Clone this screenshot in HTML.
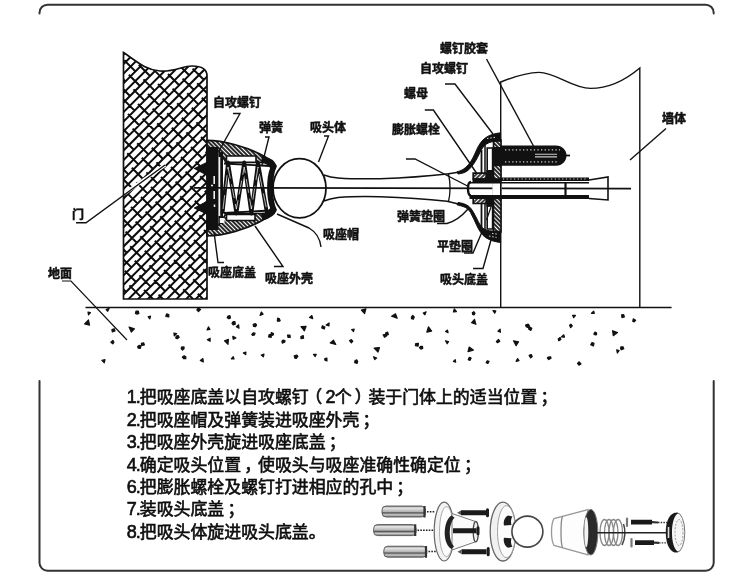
<!DOCTYPE html>
<html lang="zh-CN">
<head>
<meta charset="utf-8">
<title>门吸安装示意图</title>
<style>
html,body{margin:0;padding:0;background:#fff;}
body{width:750px;height:576px;overflow:hidden;position:relative;font-family:"Liberation Sans","Noto Sans CJK SC",sans-serif;}
#dia{position:absolute;left:0;top:0;width:750px;height:576px;display:block;filter:blur(0.4px);}
.lb{font-family:"Liberation Sans","Noto Sans CJK SC",sans-serif;font-weight:bold;font-size:12px;fill:#111;stroke:#111;stroke-width:0.5px;stroke-linejoin:round;}
.steps{filter:blur(0.4px);position:absolute;left:126.8px;top:387.2px;margin:0;padding:0;list-style:none;font-size:16.9px;line-height:22.45px;color:#111;white-space:nowrap;}
.steps b{font-weight:normal;font-size:18px;letter-spacing:-1px;line-height:1px;}
.steps u{text-decoration:none;position:relative;left:-3.5px;}
.steps i{font-style:normal;position:relative;left:3.2px;}
.steps li{margin:0;padding:0;height:22.45px;-webkit-text-stroke:0.6px #0a0a0a;}
</style>
</head>
<body>
<svg id="dia" width="750" height="576" viewBox="0 0 750 576">
<defs>
<pattern id="hatch" width="3" height="3" patternUnits="userSpaceOnUse" patternTransform="rotate(45)">
<rect width="3" height="3" fill="#fff"/>
<path d="M0 1H3" stroke="#111" stroke-width="1.800"/>
</pattern>
<pattern id="hatch2" width="3" height="3" patternUnits="userSpaceOnUse" patternTransform="rotate(-45)">
<rect width="3" height="3" fill="#fff"/>
<path d="M0 1H3" stroke="#111" stroke-width="1.600"/>
</pattern>
</defs>
<!-- FRAME -->
<g id="frame" fill="none" stroke="#333" stroke-width="2" stroke-linecap="round">
<path d="M39.5 13.5V12.7a8 8 0 0 1 8-8H705.7a8 8 0 0 1 8 8V13.5"/>
<path d="M39.5 381V562.7a8 8 0 0 0 8 8H705.7a8 8 0 0 0 8-8V381"/>
</g>
<!-- DOOR -->
<g id="door">
<clipPath id="doorclip"><path d="M123.5 52.5C135 60 145 70 160 71C175 72 182 66 192 66C200 66 207 68 207 76V299H123.5Z"/></clipPath>
<path d="M123.5 52.5C135 60 145 70 160 71C175 72 182 66 192 66C200 66 207 68 207 76V299H123.5Z" fill="#fff"/>
<g clip-path="url(#doorclip)"><path d="M121.0 37.8L209.0 -50.2M121.0 47.4L209.0 -40.6M121.0 57.0L209.0 -31.0M121.0 66.6L209.0 -21.4M121.0 76.2L209.0 -11.8M121.0 85.8L209.0 -2.2M121.0 95.4L209.0 7.4M121.0 105.0L209.0 17.0M121.0 114.6L209.0 26.6M121.0 124.2L209.0 36.2M121.0 133.8L209.0 45.8M121.0 143.4L209.0 55.4M121.0 153.0L209.0 65.0M121.0 162.6L209.0 74.6M121.0 172.2L209.0 84.2M121.0 181.8L209.0 93.8M121.0 191.4L209.0 103.4M121.0 201.0L209.0 113.0M121.0 210.6L209.0 122.6M121.0 220.2L209.0 132.2M121.0 229.8L209.0 141.8M121.0 239.4L209.0 151.4M121.0 249.0L209.0 161.0M121.0 258.6L209.0 170.6M121.0 268.2L209.0 180.2M121.0 277.8L209.0 189.8M121.0 287.4L209.0 199.4M121.0 297.0L209.0 209.0M121.0 306.6L209.0 218.6M121.0 316.2L209.0 228.2M121.0 325.8L209.0 237.8M121.0 335.4L209.0 247.4M121.0 345.0L209.0 257.0M121.0 354.6L209.0 266.6M121.0 364.2L209.0 276.2M121.0 373.8L209.0 285.8M121.0 383.4L209.0 295.4M121.0 393.0L209.0 305.0M121.0 402.6L209.0 314.6M198.0 44.0L209.2 55.2M183.4 39.4L194.6 50.6M202.6 58.6L213.8 69.8M188.0 54.0L199.2 65.2M207.2 73.2L218.4 84.4M173.4 49.4L184.6 60.6M192.6 68.6L203.8 79.8M158.8 44.8L170.0 56.0M178.0 64.0L189.2 75.2M197.2 83.2L208.4 94.4M144.2 40.2L155.4 51.4M163.4 59.4L174.6 70.6M182.6 78.6L193.8 89.8M201.8 97.8L213.0 109.0M148.8 54.8L160.0 66.0M168.0 74.0L179.2 85.2M187.2 93.2L198.4 104.4M206.4 112.4L217.6 123.6M134.2 50.2L145.4 61.4M153.4 69.4L164.6 80.6M172.6 88.6L183.8 99.8M191.8 107.8L203.0 119.0M119.6 45.6L130.8 56.8M138.8 64.8L150.0 76.0M158.0 84.0L169.2 95.2M177.2 103.2L188.4 114.4M196.4 122.4L207.6 133.6M124.2 60.2L135.4 71.4M143.4 79.4L154.6 90.6M162.6 98.6L173.8 109.8M181.8 117.8L193.0 129.0M201.0 137.0L212.2 148.2M128.8 74.8L140.0 86.0M148.0 94.0L159.2 105.2M167.2 113.2L178.4 124.4M186.4 132.4L197.6 143.6M205.6 151.6L216.8 162.8M114.2 70.2L125.4 81.4M133.4 89.4L144.6 100.6M152.6 108.6L163.8 119.8M171.8 127.8L183.0 139.0M191.0 147.0L202.2 158.2M118.8 84.8L130.0 96.0M138.0 104.0L149.2 115.2M157.2 123.2L168.4 134.4M176.4 142.4L187.6 153.6M195.6 161.6L206.8 172.8M123.4 99.4L134.6 110.6M142.6 118.6L153.8 129.8M161.8 137.8L173.0 149.0M181.0 157.0L192.2 168.2M200.2 176.2L211.4 187.4M128.0 114.0L139.2 125.2M147.2 133.2L158.4 144.4M166.4 152.4L177.6 163.6M185.6 171.6L196.8 182.8M204.8 190.8L216.0 202.0M113.4 109.4L124.6 120.6M132.6 128.6L143.8 139.8M151.8 147.8L163.0 159.0M171.0 167.0L182.2 178.2M190.2 186.2L201.4 197.4M118.0 124.0L129.2 135.2M137.2 143.2L148.4 154.4M156.4 162.4L167.6 173.6M175.6 181.6L186.8 192.8M194.8 200.8L206.0 212.0M122.6 138.6L133.8 149.8M141.8 157.8L153.0 169.0M161.0 177.0L172.2 188.2M180.2 196.2L191.4 207.4M199.4 215.4L210.6 226.6M127.2 153.2L138.4 164.4M146.4 172.4L157.6 183.6M165.6 191.6L176.8 202.8M184.8 210.8L196.0 222.0M204.0 230.0L215.2 241.2M112.6 148.6L123.8 159.8M131.8 167.8L143.0 179.0M151.0 187.0L162.2 198.2M170.2 206.2L181.4 217.4M189.4 225.4L200.6 236.6M208.6 244.6L219.8 255.8M117.2 163.2L128.4 174.4M136.4 182.4L147.6 193.6M155.6 201.6L166.8 212.8M174.8 220.8L186.0 232.0M194.0 240.0L205.2 251.2M121.8 177.8L133.0 189.0M141.0 197.0L152.2 208.2M160.2 216.2L171.4 227.4M179.4 235.4L190.6 246.6M198.6 254.6L209.8 265.8M126.4 192.4L137.6 203.6M145.6 211.6L156.8 222.8M164.8 230.8L176.0 242.0M184.0 250.0L195.2 261.2M203.2 269.2L214.4 280.4M111.8 187.8L123.0 199.0M131.0 207.0L142.2 218.2M150.2 226.2L161.4 237.4M169.4 245.4L180.6 256.6M188.6 264.6L199.8 275.8M207.8 283.8L219.0 295.0M116.4 202.4L127.6 213.6M135.6 221.6L146.8 232.8M154.8 240.8L166.0 252.0M174.0 260.0L185.2 271.2M193.2 279.2L204.4 290.4M121.0 217.0L132.2 228.2M140.2 236.2L151.4 247.4M159.4 255.4L170.6 266.6M178.6 274.6L189.8 285.8M197.8 293.8L209.0 305.0M125.6 231.6L136.8 242.8M144.8 250.8L156.0 262.0M164.0 270.0L175.2 281.2M183.2 289.2L194.4 300.4M111.0 227.0L122.2 238.2M130.2 246.2L141.4 257.4M149.4 265.4L160.6 276.6M168.6 284.6L179.8 295.8M115.6 241.6L126.8 252.8M134.8 260.8L146.0 272.0M154.0 280.0L165.2 291.2M173.2 299.2L184.4 310.4M120.2 256.2L131.4 267.4M139.4 275.4L150.6 286.6M158.6 294.6L169.8 305.8M124.8 270.8L136.0 282.0M144.0 290.0L155.2 301.2M110.2 266.2L121.4 277.4M129.4 285.4L140.6 296.6M114.8 280.8L126.0 292.0M134.0 300.0L145.2 311.2M119.4 295.4L130.6 306.6" stroke="#0c0c0c" stroke-width="2.00" fill="none"/></g>
<path d="M123.5 52.5C135 60 145 70 160 71C175 72 182 66 192 66C200 66 207 68 207 76V299H123.5Z" fill="none" stroke="#111" stroke-width="1.7"/>
</g>
<!-- GROUND -->
<g id="ground">
<path d="M85.500 307.500H671.600" stroke="#111" stroke-width="1.700"/>
<path id="speck" fill="#111" stroke="#111" stroke-width="1.2" stroke-linejoin="round" d="M88.0 312.2L90.5 312.5L88.5 314.9ZM84.6 324.0L88.5 320.0L89.5 325.1ZM107.7 311.3L106.2 309.5L109.1 308.4ZM138.9 313.4L137.2 314.1L135.4 313.4L136.0 311.2L138.3 311.1ZM150.6 316.2L149.8 318.9L148.2 316.8ZM165.8 316.3L166.6 313.9L168.8 314.6L168.8 316.9ZM200.6 309.4L198.5 311.7L196.8 309.8L198.4 308.0ZM228.9 318.8L227.2 317.8L227.9 316.2L229.9 315.7L230.5 318.0ZM263.1 314.1L260.1 315.4L261.3 312.0ZM279.1 321.3L277.3 320.5L277.7 318.2L279.2 318.6L280.2 320.8ZM112.3 331.9L111.9 329.6L114.2 328.7L115.0 330.9ZM129.1 327.1L134.4 328.9L131.3 332.0ZM110.9 342.2L112.9 340.4L113.9 342.3L112.8 343.8ZM138.3 348.2L137.6 346.8L139.3 345.3L141.0 345.8L140.4 348.3ZM141.4 343.4L143.6 342.8L144.4 345.0L141.7 345.4ZM176.7 333.5L174.3 335.8L173.9 333.1ZM175.8 338.2L176.2 336.1L178.2 335.5L179.2 337.3L177.3 338.8ZM181.3 348.9L181.4 347.0L184.0 346.9L184.1 348.5L182.5 350.1ZM183.6 358.7L182.4 357.1L184.2 355.8L185.8 356.8L185.8 358.7ZM200.3 360.4L202.9 358.6L203.3 361.9ZM208.4 326.9L209.9 329.4L207.1 329.8ZM210.1 338.2L210.1 341.3L207.3 339.7ZM228.0 344.3L224.5 340.8L228.4 339.4ZM232.8 336.4L235.8 337.9L233.2 339.3ZM232.0 323.4L233.2 321.6L234.9 321.5L235.3 324.2L233.2 324.8ZM236.3 326.8L238.6 324.8L239.0 328.1ZM231.3 358.8L233.2 356.6L234.1 358.9ZM245.9 352.1L245.7 354.6L243.4 352.9ZM252.6 335.5L251.8 334.5L253.2 332.9L255.0 333.2L254.5 335.0ZM255.4 323.7L256.6 324.9L255.5 326.7L253.5 326.5L253.2 324.3ZM263.4 356.9L261.3 355.0L264.0 354.2ZM268.6 337.0L269.1 334.7L271.4 334.9L271.2 337.3ZM271.3 332.6L273.5 333.5L273.1 335.2L270.8 335.5ZM101.9 360.4L105.0 359.7L104.3 362.8ZM277.9 318.3L280.1 320.5L277.5 321.3ZM281.9 341.1L283.2 340.0L285.1 340.9L284.6 342.2L282.3 343.1ZM287.5 335.2L290.0 335.1L290.2 337.4L288.1 337.5ZM303.2 335.5L303.6 338.2L301.0 338.7L300.9 336.5ZM306.1 326.4L304.4 330.9L301.0 326.7ZM312.7 318.6L309.5 317.4L311.9 315.6ZM322.4 325.7L324.9 327.0L324.3 329.0L321.7 327.9ZM328.9 325.9L326.1 324.9L329.1 322.9ZM296.1 358.5L294.8 358.1L294.2 355.9L296.9 355.0L297.9 356.4ZM316.3 354.3L315.2 356.5L313.5 354.4ZM327.0 360.9L324.8 360.1L324.8 358.5L326.9 358.2ZM333.5 340.2L335.8 344.5L330.2 342.9ZM352.8 341.2L351.4 342.9L349.5 340.7L351.3 339.6ZM354.2 329.0L353.5 331.6L351.7 329.5ZM354.7 362.8L354.9 360.8L356.7 359.9L357.7 361.5L357.0 363.5ZM361.4 310.1L365.9 308.8L364.6 313.6ZM373.6 356.7L376.6 358.1L374.7 359.6ZM374.1 348.1L379.5 347.6L378.0 352.1ZM384.5 337.3L383.2 334.9L385.6 334.3L386.3 336.2ZM388.4 334.5L386.4 335.4L385.5 333.1L387.6 332.1ZM395.5 313.8L397.2 318.3L391.6 316.2ZM412.8 315.5L414.3 317.1L413.3 319.2L411.4 318.6L411.5 316.8ZM423.3 313.0L426.1 311.8L424.9 314.8ZM418.5 343.4L418.0 346.2L415.4 345.6L415.7 343.5ZM419.4 347.6L420.8 346.3L422.5 346.4L422.7 348.4L420.9 349.1ZM431.6 331.1L426.8 332.2L428.5 326.8ZM445.6 331.4L447.5 330.1L448.1 332.7ZM448.5 341.6L447.2 343.8L445.5 340.8ZM454.3 308.8L456.5 311.6L453.4 312.0ZM453.4 361.5L455.2 359.6L455.7 362.2ZM469.2 347.0L473.3 350.1L468.0 351.7ZM468.2 359.8L469.3 357.3L471.1 358.1L469.9 360.4ZM474.5 319.3L475.9 324.3L471.5 322.8ZM472.6 314.5L472.3 312.7L473.8 311.7L475.0 313.4L473.9 315.0ZM494.7 313.2L493.0 310.6L495.8 310.9ZM500.4 332.3L498.0 331.1L500.1 329.1ZM498.5 339.4L499.7 341.4L497.3 342.8L496.4 341.4ZM489.0 361.4L487.9 363.5L486.1 362.8L487.2 360.8ZM518.6 341.8L516.1 345.7L513.5 340.8ZM516.1 361.4L517.6 358.6L519.0 360.6ZM526.1 326.7L525.6 325.0L528.1 324.1L529.3 325.7L528.3 327.6ZM528.6 329.1L529.8 327.0L531.8 328.2L530.8 330.5ZM532.2 356.6L530.7 357.9L529.1 355.4L531.3 354.5ZM551.0 358.2L548.8 359.6L547.4 358.0L548.3 357.0L550.7 356.8ZM558.2 338.9L560.1 337.5L560.9 339.6L558.8 340.8ZM564.5 337.2L561.4 337.0L563.8 334.8ZM570.9 324.1L572.3 325.8L570.7 327.7L569.6 325.2ZM575.5 315.4L573.7 317.7L572.6 315.3ZM579.2 361.8L581.0 363.9L578.9 365.2L577.5 363.4ZM594.3 313.4L591.5 313.3L593.7 311.2ZM595.0 332.0L596.5 332.7L596.6 334.6L595.3 335.0L593.8 334.0ZM593.4 346.0L590.7 344.8L592.0 342.5L594.0 343.3ZM617.5 332.6L613.3 335.7L612.6 330.7ZM617.4 353.0L616.7 349.9L619.1 350.6ZM620.6 348.7L620.9 346.9L623.0 346.8L623.8 348.7L621.4 349.8ZM624.4 317.0L622.0 317.6L621.6 314.9L623.7 314.7ZM635.7 320.2L634.2 321.9L632.7 321.3L633.3 318.9Z"/>
</g>
<!-- WALL -->
<g id="wall" fill="none" stroke="#111" stroke-width="1.4">
<path d="M500.700 307V82C512 77.500 526 72.400 539 72.400C556 72.400 572 88.400 590.500 88.400C610 88.400 628 78 639.800 68V307"/>
</g>
<!-- LEFTDEV -->
<g id="leftdev">
<!-- outer shell hatched -->
<path d="M207 140.300C222 140.300 248 146.500 265.500 157L263.500 162.500H226L219 151H207Z" fill="url(#hatch)" stroke="#111" stroke-width="1.700"/>
<path d="M207 236C222 236 248 229.500 265.500 218.500L263.500 213.500H226L219 225H207Z" fill="url(#hatch)" stroke="#111" stroke-width="1.700"/>
<!-- base cover black -->
<path d="M206.500 147H218.400V230H206.500Z" fill="#111"/>
<path d="M207 162.500L194.500 168.500L207 175ZM207 201.500L194.500 208L207 214Z" fill="#111" stroke="#111" stroke-width="1.200" stroke-linejoin="round"/>
<path d="M197 168.600H207M197 208H207" stroke="#111" stroke-width="3.400"/>
<path d="M214.200 176V184M214.200 191V199M211 185.500H213M214.500 204.500V207" stroke="#eee" stroke-width="1.600"/>
<!-- inner sleeve -->
<path d="M218.400 152H223V224H218.400Z" fill="#111"/>
<path d="M219.400 157V216" stroke="#f4f4f4" stroke-width="1.700"/>
<path d="M219.800 218H224.500V223H219.800Z" fill="#f4f4f4"/>
<path d="M226.500 156H256V162.300H226.500ZM226.500 214.500H255V220.500H226.500Z" fill="#fff" stroke="#111" stroke-width="1.600"/>
<path d="M224 163.500L270 166M224 213L270 210.500" stroke="#111" stroke-width="1.800" fill="none"/>
<!-- spring -->
<path d="M222.500 213.500L228 162.500L236.400 213.500L244.200 162.500L251.400 213.500L258 162.500L267 213.500" fill="none" stroke="#111" stroke-width="3.800" stroke-linejoin="round"/>
<path d="M223 209L228 167L236.400 209L244.200 167L251.400 209L258 167L266.500 209" fill="none" stroke="#fff" stroke-width="0.700" stroke-linejoin="round" stroke-dasharray="14 6"/>
<!-- cap -->
<path d="M263 156.500C269 158 274 161 276 166C271 176 271 200 276 210C274 215 269 218 263 219.500L262 214C268 213 270 211 271 208C267 198 267 178 271 168C270 165 268 163 262 162Z" fill="#111" stroke="#111" stroke-width="1.800" stroke-linejoin="round"/>
</g>
<!-- BALL -->
<g id="ball" fill="none" stroke="#111" stroke-width="1.500">
<ellipse cx="299.500" cy="188.300" rx="26.500" ry="29.600" fill="#fff" stroke-width="1.800"/>
<path d="M324 175C328 176.500 332 177.500 338 178C352 179 366 179 380 178.700C400 178 425 176.500 447 174C451 173.500 454 173 458 172.300"/>
<path d="M324 201C328 199.500 332 198.500 338 197.500C352 196.300 366 196.300 380 196.700C400 197.300 425 198.800 447 201.300C451 202 454 203 458 204"/>
<path d="M448.500 174C450.500 183 450.500 193 448.500 201.500" stroke-width="1.300"/>
<path d="M194 187.800L631 188.600" stroke-width="1.700"/>
</g>
<!-- RIGHTDEV -->
<g id="rightdev">
<!-- inner flanges -->
<path d="M481.500 150V176M481.500 200V231" stroke="#111" stroke-width="1.800"/>
<path d="M485 143V176M485 200V231" stroke="#111" stroke-width="1.500"/>
<path d="M487.200 148H492.600V172H487.200ZM487.200 206H492.600V229H487.200Z" fill="#fff" stroke="#111" stroke-width="1.600"/>
<path d="M491 207L486.500 220" stroke="#111" stroke-width="1.200"/>
<!-- base plate -->
<path d="M493.500 140H501V232H493.500Z" fill="url(#hatch)" stroke="#111" stroke-width="1.600"/>
<!-- dome cover shell -->
<path d="M500.600 132.800C496 133.300 490 134.500 485.500 137.800C482 140.300 479 144.500 477 149C475 153.500 474 155.500 472.500 158.500C470.500 162.500 467 167 463 169.500C461 170.700 459 171.300 457 171.800L458 174C462 173.500 466 172.500 469 169.500C472.500 166 475.500 161.500 477.500 157.500C479 154.500 480.500 151 482.500 148C484.500 145 488 142.500 492 141.800C495 141.300 498 141.200 500.600 141.200Z" fill="#111" stroke="#111" stroke-width="1" stroke-linejoin="round"/>
<path d="M500.600 242.500C496 242 490 240.500 485.500 237.500C482 235 479.500 231 477.500 227C475 222 473 217 470.500 212.500C468.500 209 466 207.500 463 206.500C461 205.800 459 205.300 457 204.800L458 202.500C462 203 466 204 469 206.500C472 209 474.500 214 477 219C478.500 222 480.500 226 482.500 228C485 230.200 489 230.800 492 231C495 231.200 498 231.200 500.600 231.200Z" fill="#111" stroke="#111" stroke-width="1" stroke-linejoin="round"/>
<path d="M487 138.500L496 137.200M489 236L496.500 237.500M492 233.500L498 234.200" stroke="#ddd" stroke-width="1" stroke-dasharray="1.500 1.800"/>
<!-- nut -->
<path d="M473.200 173.200H486.200V179H473.200ZM473.200 198H486.200V203.500H473.200Z" fill="url(#hatch2)" stroke="#111" stroke-width="1.700"/>
<path d="M486.200 170H493.500V179H486.200ZM486.200 198H493.500V206.500H486.200Z" fill="#111"/>
<!-- screw through plate -->
<path d="M492.500 147H502V166H492.500Z" fill="#111"/>
<!-- bolt -->
<path d="M492.400 183H501.500V195H492.400Z" fill="#fff"/>
<path d="M500.700 182V196" stroke="#111" stroke-width="1.400"/>
<path d="M469 182.800H589" stroke="#111" stroke-width="1.500" fill="none"/>
<path d="M472.500 178.200H501V182.800H472.500Z" fill="#111"/>
<path d="M500 179.200H589" stroke="#111" stroke-width="3.600"/>
<path d="M503 179H588" stroke="#e8e8e8" stroke-width="1.100" stroke-dasharray="1.100 2.600"/>
<path d="M471 182C468.500 182 468 184 468 188.500C468 193 468.500 195.500 471 195.500" fill="none" stroke="#111" stroke-width="2.400"/>
<path d="M469.500 197H589" stroke="#111" stroke-width="4.200"/>
<path d="M565.500 182V195" stroke="#111" stroke-width="2.200"/>
<path d="M589 180L608 177V200L589 198.500" fill="none" stroke="#111" stroke-width="1.600"/>
<!-- rubber plug -->
<path d="M501 145.500H556C562 145.500 566.500 150 566.500 155.500C566.500 161 562 165.700 556 165.700H501Z" fill="#111"/>
<path d="M565 155.500H570" stroke="#111" stroke-width="1.800"/>
<path d="M505 149.800H560M505 161.800H558" stroke="#ccc" stroke-width="1.300" stroke-dasharray="1.300 2.300"/>
<path d="M535 154.200H557M535 156.900H557" stroke="#ccc" stroke-width="1.100"/>
</g>
<!-- LABELS -->
<g id="leaders" fill="none" stroke="#111" stroke-width="1.400">
<path d="M233 113.500H240L219 151"/>
<path d="M265 137H269L262 165"/>
<path d="M324 136H328.500L318.500 162"/>
<path d="M125 193.300L165 165" stroke="#fff" stroke-width="3.500"/>
<path d="M76 222.800H86L165 165"/>
<path d="M277 214L309 228C316 232 320 238 321 247"/>
<path d="M214 232L218 262.500H224"/>
<path d="M255 226L283 266.500H274"/>
<path d="M62 281H71L127 340" stroke-width="1.200"/>
<path d="M486.500 59L533.500 146"/>
<path d="M445 84H455L493 134"/>
<path d="M424.800 110H433.400L476.500 173"/>
<path d="M406 159H415L467.500 186"/>
<path d="M437 223.500H447C456 221 462 216 468 209"/>
<path d="M464 253H473L482 232"/>
<path d="M473 268.500H483L491 240"/>
<path d="M666 128.500L630 160"/>
</g>
<g id="labels" class="lb">
<text x="213" y="107">自攻螺钉</text>
<text x="259" y="132">弹簧</text>
<text x="310" y="131.500">吸头体</text>
<text x="72" y="219">门</text>
<text x="323" y="239">吸座帽</text>
<text x="208" y="277">吸座底盖</text>
<text x="265" y="283">吸座外壳</text>
<text x="48" y="278">地面</text>
<text x="440" y="53">螺钉胶套</text>
<text x="420" y="73">自攻螺钉</text>
<text x="404" y="98">螺母</text>
<text x="392" y="133.500">膨胀螺栓</text>
<text x="397" y="221">弹簧垫圈</text>
<text x="437" y="250.500">平垫圈</text>
<text x="440" y="284">吸头底盖</text>
<text x="662" y="123">墙体</text>
</g>
<!-- PARTS -->
<g id="parts">
<defs>
<linearGradient id="plug" x1="0" y1="0" x2="0" y2="1">
<stop offset="0" stop-color="#777"/><stop offset="0.18" stop-color="#e6e6e6"/><stop offset="0.5" stop-color="#b5b5b5"/><stop offset="0.62" stop-color="#555"/><stop offset="0.8" stop-color="#cfcfcf"/><stop offset="1" stop-color="#666"/>
</linearGradient>
</defs>
<!-- expansion plugs -->
<g stroke="#555" stroke-width="0.900" fill="url(#plug)">
<rect x="382" y="506" width="43.500" height="11" rx="4"/>
<rect x="373.600" y="524.600" width="42.500" height="11" rx="4"/>
<rect x="383.800" y="546.200" width="43" height="11" rx="4"/>
</g>
<path d="M424.500 506V517.500M415.200 524.300V536M426 546V557.800" stroke="#333" stroke-width="2.200"/>
<path d="M427 511.800H435M417.500 530.200H436M428.500 551.400H436" stroke="#222" stroke-width="1.500" stroke-dasharray="1.600 1.200"/>
<!-- plate 1 -->
<ellipse cx="444.200" cy="531.600" rx="10" ry="29.400" fill="#f3f3f3" stroke="#666" stroke-width="1.200"/>
<ellipse cx="446.500" cy="531.600" rx="7" ry="25" fill="#fdfdfd" stroke="#999" stroke-width="0.800"/>
<!-- cone -->
<path d="M452 513.500L475.500 521.500V541.800L452 550Z" fill="#fafafa" stroke="#777" stroke-width="1"/>
<path d="M451.500 515.500C443.500 520 441.500 543 451.500 549L454 546.500C448 540 448.500 524 454.500 517.500Z" fill="#222"/>
<ellipse cx="475.800" cy="531.600" rx="2.600" ry="10.200" fill="#eee" stroke="#444" stroke-width="1.200"/>
<!-- screws -->
<g stroke="#1a1a1a" stroke-width="5" stroke-linecap="butt">
<path d="M461 512.700H486M453 530.700H476.500M461.500 551.700H486.500"/>
</g>
<path d="M487.500 509.800V515.800M478 527.800V533.800M488.200 548.600V554.800" stroke="#1a1a1a" stroke-width="3" stroke-linecap="round"/>
<path d="M457 512.700L461 510.500V515ZM457.500 551.700L461.500 549.500V554Z" fill="#555"/>
<!-- ring 2 -->
<ellipse cx="503" cy="531.600" rx="12.800" ry="29.400" fill="#f1f1f1" stroke="#666" stroke-width="1.300"/>
<ellipse cx="506.500" cy="531.600" rx="9" ry="26" fill="#fcfcfc" stroke="#999" stroke-width="0.900"/>
<path d="M508 515.500C504.500 517 503 522 504 525.500L511.500 525C510.500 522 511 518.500 512.500 516.500ZM508 547.800C504.500 546.300 503 541.300 504 537.800L511.500 538.300C510.500 541.300 511 544.800 512.500 546.800Z" fill="#1c1c1c"/>
<!-- ball -->
<circle cx="527.400" cy="531.600" r="15.500" fill="#fff" stroke="#444" stroke-width="1.600"/>
<!-- shell -->
<path d="M554 518.500C552 522 551.500 527 551.500 532C551.500 537 552 542 554 545.500L588 555V509.500Z" fill="#fdfdfd" stroke="#999" stroke-width="1.300"/>
<path d="M562.500 516.500C560.500 521 560.500 543 562.500 547.500" fill="none" stroke="#888" stroke-width="1.300"/>
<ellipse cx="590.800" cy="532.200" rx="7" ry="22.800" fill="#2a2a2a" stroke="#777" stroke-width="1"/>
<ellipse cx="586.300" cy="532.200" rx="2" ry="15" fill="#f4f4f4"/>
<!-- spring -->
<g fill="none" stroke="#888" stroke-width="1.300">
<ellipse cx="604.500" cy="532.500" rx="4.500" ry="13"/>
<ellipse cx="609" cy="532.500" rx="4.500" ry="13"/>
<ellipse cx="613.500" cy="532.500" rx="4.500" ry="13"/>
<ellipse cx="618" cy="532.500" rx="4.500" ry="13"/>
</g>
<path d="M623.500 524C625.500 529 625.500 539 622 545" fill="none" stroke="#444" stroke-width="1.500"/>
<path d="M596 532.800H668" stroke="#222" stroke-width="1.400"/>
<!-- screws 2 -->
<g stroke="#1a1a1a" stroke-width="4.800" stroke-linecap="butt">
<path d="M631 522.200H652M635 542.600H654"/>
</g>
<path d="M627 518.500V526M631.500 539V546.500" stroke="#777" stroke-width="2.200" stroke-linecap="round"/>
<path d="M652 522.200L658 522.500M654 542.600L659 542.800" stroke="#333" stroke-width="2.200"/>
<path d="M658 522.500H667M659 542.800H667" stroke="#333" stroke-width="1.300" stroke-dasharray="1.500 1.200"/>
<!-- end cap -->
<ellipse cx="677" cy="532.500" rx="7.800" ry="19.800" fill="#f6f6f6" stroke="#777" stroke-width="1"/>
<path d="M674.500 512.800C668 515 665.800 524 665.800 532.500C665.800 541 668 550 674.500 552.500L678.500 552C673.500 549 672 541 672 532.500C672 524 673.500 516 678.500 513Z" fill="#1a1a1a"/>
<path d="M668.500 527V538" stroke="#ddd" stroke-width="1.600"/>
<ellipse cx="679" cy="532.500" rx="4" ry="13" fill="none" stroke="#999" stroke-width="1" stroke-dasharray="2 1.500"/>
</g>
</svg>
<ol class="steps">
<li><b>1.</b>把吸座底盖以自攻螺钉<u>（</u><b>2</b>个<i>）</i>装于门体上的适当位置<i>；</i></li>
<li><b>2.</b>把吸座帽及弹簧装进吸座外壳<i>；</i></li>
<li><b>3.</b>把吸座外壳旋进吸座底盖<i>；</i></li>
<li><b>4.</b>确定吸头位置<i>，</i>使吸头与吸座准确性确定位<i>；</i></li>
<li><b>6.</b>把膨胀螺栓及螺钉打进相应的孔中<i>；</i></li>
<li><b>7.</b>装吸头底盖<i>；</i></li>
<li><b>8.</b>把吸头体旋进吸头底盖。</li>
</ol>
</body>
</html>
